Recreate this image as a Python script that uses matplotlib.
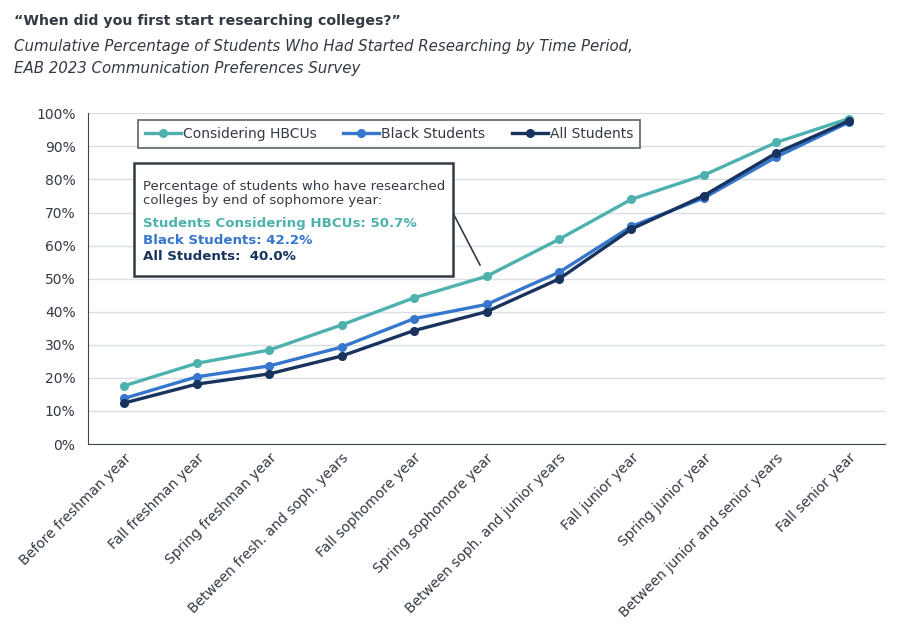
import matplotlib.pyplot as plt
from matplotlib.patches import Rectangle

categories = ['Before freshman year', 'Fall freshman year', 'Spring freshman year',
              'Between fresh. and soph. years', 'Fall sophomore year', 'Spring sophomore year',
              'Between soph. and junior years', 'Fall junior year', 'Spring junior year',
              'Between junior and senior years', 'Fall senior year']
hbcu = [17.6, 24.4, 28.4, 36.0, 44.2, 50.7, 61.9, 74.0, 81.3, 91.2, 98.4]
black = [13.8, 20.3, 23.6, 29.3, 37.9, 42.2, 51.9, 65.8, 74.4, 86.8, 97.3]
all_students = [12.4, 18.1, 21.2, 26.6, 34.3, 40.0, 49.9, 65.0, 75.1, 88.0, 97.7]
yticks = [0, 10, 20, 30, 40, 50, 60, 70, 80, 90, 100]

c_hbcu = '#4DB1AD'
c_black = '#3676CC'
c_all = '#17335E'
c_text = '#333A44'

plt.rcParams['font.family'] = ['DejaVu Sans']
fig = plt.figure(figsize=(9.02, 6.32), dpi=100)
ax = fig.add_axes([88/902, 1-444/632, 797/902, 330.7/632])

x = range(len(categories))
ax.plot(x, hbcu, color=c_hbcu, lw=2.4, marker='o', ms=5.5, label='Considering HBCUs', zorder=3)
ax.plot(x, black, color=c_black, lw=2.4, marker='o', ms=5.5, label='Black Students', zorder=4)
ax.plot(x, all_students, color=c_all, lw=2.4, marker='o', ms=5.5, label='All Students', zorder=5)

ax.set_xlim(-0.5, len(categories) - 0.5)
ax.set_ylim(0, 100)
ax.set_yticks(yticks)
ax.set_yticklabels([f'{v}%' for v in yticks], fontsize=10, color=c_text)
ax.set_xticks(list(x))
ax.set_xticklabels(categories, rotation=45, ha='right', rotation_mode='anchor', fontsize=10, color=c_text)
ax.tick_params(axis='y', length=0, pad=9)
ax.tick_params(axis='x', length=0, pad=5)
ax.grid(axis='y', color='#DADDE3', lw=1)
ax.set_axisbelow(True)
for s in ['top', 'right']:
    ax.spines[s].set_visible(False)
ax.spines['left'].set_color('#404650')
ax.spines['bottom'].set_color('#404650')

leg = ax.legend(loc='upper left', bbox_to_anchor=(47/797, 1 - 4/330.7), ncol=3, frameon=True,
                fancybox=False, fontsize=10, handlelength=2.6, handletextpad=0.15,
                columnspacing=1.9, borderpad=0.5, borderaxespad=0.2, labelcolor=c_text)
leg.get_frame().set_edgecolor('#333A44')
leg.get_frame().set_linewidth(1.2)

# annotation box
box = Rectangle((134/902, 1-276/632), 319/902, 113/632, transform=fig.transFigure,
                facecolor='white', edgecolor='#333A44', lw=1.8, zorder=6)
fig.patches.append(box)
fig.text(143/902, 1-193/632, 'Percentage of students who have researched\ncolleges by end of sophomore year:',
         fontsize=9.5, color=c_text, va='center', linespacing=1.1, zorder=7)
fig.text(143/902, 1-224/632, 'Students Considering HBCUs: 50.7%', fontsize=9.6, fontweight='bold',
         color=c_hbcu, va='center', zorder=7)
fig.text(143/902, 1-241/632, 'Black Students: 42.2%', fontsize=9.6, fontweight='bold',
         color=c_black, va='center', zorder=7)
fig.text(143/902, 1-257/632, 'All Students:  40.0%', fontsize=9.6, fontweight='bold',
         color=c_all, va='center', zorder=7)
fig.add_artist(plt.Line2D([454/902, 480/902], [1-215/632, 1-265/632], color='#333A44', lw=1.2))

fig.text(14/902, 1-21/632, '\u201cWhen did you first start researching colleges?\u201d', fontsize=10.2,
         fontweight='bold', color=c_text, va='center')
fig.text(14/902, 1-46/632, 'Cumulative Percentage of Students Who Had Started Researching by Time Period,',
         fontsize=10.8, style='italic', color=c_text, va='center')
fig.text(14/902, 1-69/632, 'EAB 2023 Communication Preferences Survey',
         fontsize=10.8, style='italic', color=c_text, va='center')

fig.savefig('out.png', dpi=100)
